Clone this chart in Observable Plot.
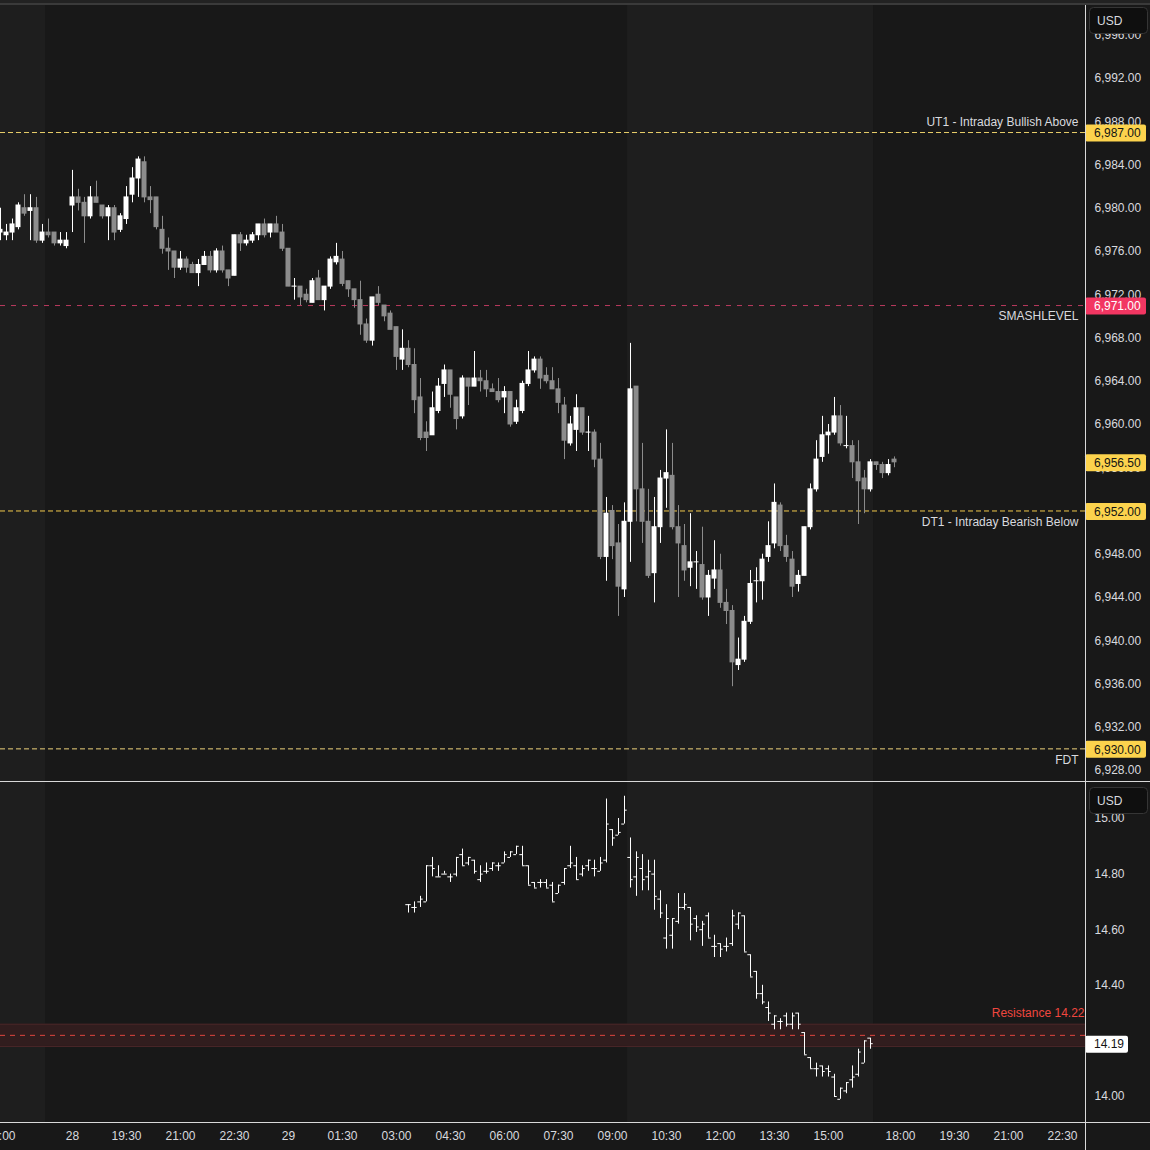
<!DOCTYPE html>
<html><head><meta charset="utf-8">
<script src="https://cdn.jsdelivr.net/npm/d3@7"></script>
<script src="https://cdn.jsdelivr.net/npm/@observablehq/plot@0.6"></script>
<style>
html,body{margin:0;padding:0;background:#181818;}
#chart{position:relative;width:1150px;height:1150px;overflow:hidden;background:#181818;font-family:"Liberation Sans",Arial,sans-serif;}
#chart svg{position:absolute;left:0;display:block;}
</style></head><body><div id="chart"></div>
<script>
// ---------- ES 10-minute candles (bar index 0 = 15:00 on the 27th) ----------
const esOpen = [
6977.75,6977.5,6977.75,6978.25,6980,6979.75,6980,6977,6977.75,6977.75,
6976.75,6976.5,6980.25,6981,6980.5,6979.25,6981,6980.25,6979.25,6980,
6978,6979,6981.25,6982.75,6984.25,6981,6981,6978,6976.25,6976,
6974.5,6975.25,6974.75,6974,6974.75,6975.5,6974.25,6976,6974.25,6973.75,
6977.5,6976.75,6977,6977.5,6978.5,6977.75,6978.5,6977.75,6976.25,6972.75,
6972.75,6972,6971.25,6973.5,6971.5,6972.75,6975,6975.25,6973.25,6972.5,
6971.5,6969.25,6967.75,6972,6971,6970.25,6969,6966,6967,6965.5,
6962.5,6959.25,6959,6961.25,6963.75,6965,6962.5,6960.75,6964.25,6963.5,
6964.25,6964,6963.25,6963,6962.5,6963,6960.25,6961.25,6963.75,6965,
6966,6964.5,6964,6963.25,6961.75,6958.25,6959.5,6961.5,6959.25,6959.25,
6956.75,6947.75,6952,6949,6944.75,6951,6963.5,6954,6951,6946.25,
6950.5,6955,6955.25,6950.5,6948.75,6946.75,6947.25,6947,6944,6945.75,
6946.5,6943.5,6942.75,6937.75,6938.25,6941.75,6945.5,6945.5,6947.75,6949,
6952.5,6948.75,6947.5,6945.25,6946,6950.5,6954,6957,6959,6959.25,
6960.75,6958,6958,6956.5,6955,6954,6956.5,6956.25,6955.5,6956.75];
const esHigh = [
6980,6978.5,6979,6980.5,6981.25,6981.25,6981,6978.5,6979,6977.75,
6977.75,6977.75,6983.5,6981.75,6981,6982,6982.5,6980.25,6980.25,6980.25,
6979.5,6982,6983.75,6984.75,6984.75,6982,6981,6979.25,6977.25,6976,
6976,6975.5,6975,6975.25,6976,6976,6976.25,6976.5,6974.25,6977.5,
6977.75,6977.5,6977.75,6978.5,6979,6978.5,6979.25,6978.5,6976.25,6973.5,
6972.75,6972.5,6973.5,6974.25,6972.75,6975.5,6976.75,6976,6973.25,6972.5,
6973.25,6969.75,6971.75,6972.75,6971,6970.5,6969,6968.75,6967.75,6967,
6964.25,6960.25,6963,6964.25,6965.5,6965,6962.5,6964.5,6964.25,6966.75,
6965,6965,6963.75,6964.25,6963.5,6963,6962.25,6964,6966.75,6966.25,
6966.25,6965.25,6965.25,6964.25,6962.5,6960.75,6962.75,6961.5,6960.75,6959.5,
6958.25,6953.25,6952.5,6950.75,6952.75,6967.5,6963.5,6958.25,6954,6953.25,
6955.75,6959.5,6958.25,6952.5,6950.75,6951.75,6948.25,6950.5,6946.5,6949.25,
6948,6944.75,6943.25,6940.25,6942.25,6946.5,6946.75,6948,6951,6954.5,
6952.75,6949.75,6948.25,6946.5,6950.5,6954.5,6958.5,6960.75,6960,6962.5,
6961.75,6960.75,6958.5,6958.5,6955.75,6956.75,6956.5,6956.5,6956.75,6957];
const esLow = [
6977,6977,6977,6978,6979.25,6977,6976.75,6976.75,6977.25,6976.5,
6976.5,6976.25,6977.75,6979.75,6976.75,6979,6980.5,6979,6977,6977,
6977.75,6978.5,6980.5,6981,6980.5,6979.5,6978,6975.75,6974.25,6973.5,
6974.25,6974,6974,6972.75,6974.75,6974,6974,6974,6972.75,6973.75,
6976,6976.5,6976.75,6977,6977.25,6977.25,6977.75,6976,6972.75,6971.5,
6971,6971.25,6971.25,6971.5,6970.5,6972.5,6974.75,6972.75,6971.75,6970.75,
6968.25,6967.5,6967.25,6971,6969.5,6968.75,6965,6965,6965.25,6961,
6958.5,6957.5,6959,6961,6962.5,6961.5,6959.5,6960.5,6961.75,6963.5,
6963,6962.5,6963,6962,6961,6959.75,6960,6961,6963.5,6964.75,
6963.25,6963.75,6963.25,6961,6956.75,6958,6957.5,6959,6957.5,6956,
6947.5,6945.5,6947.5,6942.25,6944,6947.25,6951,6949,6945.75,6943.5,
6949,6952.25,6950.25,6944,6945.5,6945,6944.75,6943.75,6942.25,6944.75,
6943,6941.5,6935.75,6937.25,6938,6941.5,6943.5,6943.75,6947.25,6948.5,
6948.25,6947.25,6944,6944.5,6946,6950.25,6953.75,6956.5,6957.25,6959,
6958,6957.75,6955,6950.75,6951.75,6953.75,6955.75,6955,6955.25,6956];
const esClose = [
6978,6977.75,6978.5,6980.25,6979.5,6980,6977,6977.75,6977.5,6976.75,
6977,6977,6981,6980.5,6979.25,6981,6980.5,6979.25,6980,6977.75,
6979.25,6981,6982.75,6984.5,6981,6980.75,6978.25,6976.25,6976,6974.5,
6975.25,6974.5,6974,6974.75,6975.5,6974.25,6976,6974.25,6973.5,6977.5,
6976.75,6977,6977.5,6978.5,6977.5,6978.5,6977.75,6976.25,6972.75,6972.75,
6971.75,6971.5,6973.25,6971.5,6972.75,6975.25,6975.5,6973,6972.5,6971.5,
6969.25,6967.75,6971.75,6971.25,6970,6968.75,6966.25,6967,6965.5,6962.25,
6958.75,6958.75,6961.5,6963.5,6965,6962.75,6960.5,6964.25,6963.5,6964.25,
6964,6963.25,6963,6962.25,6963,6960,6961.5,6963.75,6965,6966,
6964.25,6964,6963.25,6962,6958.5,6960,6961.5,6959.25,6959.25,6956.75,
6947.75,6951.75,6948.75,6945,6951,6963.25,6954,6951,6946,6950.5,
6955,6955.5,6950.5,6949,6946.5,6947.25,6947.25,6944,6946,6946.5,
6943.5,6942.75,6938,6938.25,6941.75,6945.25,6945.5,6947.5,6948.75,6952.75,
6948.75,6947.75,6945,6946,6950.5,6954,6956.75,6959,6959.25,6960.75,
6958.25,6958,6956.5,6954.75,6954,6956.5,6956.25,6955.5,6956.25,6956.5];

// ---------- VIX OHLC bars (first bar index) ----------
const vixFirstBar = 68;
const vixOpen = [
14.69,14.68,14.70,14.70,14.83,14.79,14.80,14.79,14.80,14.87,
14.84,14.85,14.78,14.81,14.82,14.83,14.84,14.86,14.87,14.87,
14.83,14.77,14.77,14.77,14.76,14.73,14.77,14.83,14.83,14.80,
14.83,14.82,14.81,14.85,14.96,14.94,14.98,14.86,14.79,14.82,
14.79,14.80,14.71,14.57,14.58,14.63,14.68,14.68,14.64,14.60,
14.65,14.54,14.55,14.54,14.55,14.62,14.65,14.51,14.45,14.37,
14.32,14.26,14.27,14.29,14.26,14.30,14.23,14.14,14.10,14.11,
14.10,14.07,13.99,14.02,14.06,14.08,14.12,14.21];
const vixHigh = [
14.69,14.70,14.72,14.83,14.86,14.83,14.81,14.80,14.86,14.89,
14.86,14.85,14.83,14.84,14.84,14.84,14.88,14.88,14.90,14.90,
14.83,14.77,14.78,14.78,14.77,14.76,14.82,14.90,14.86,14.83,
14.85,14.85,14.86,15.07,14.96,15.00,15.08,14.93,14.88,14.87,
14.85,14.85,14.74,14.69,14.64,14.73,14.73,14.68,14.65,14.63,
14.66,14.58,14.55,14.57,14.67,14.66,14.65,14.51,14.45,14.40,
14.34,14.29,14.28,14.30,14.30,14.30,14.23,14.14,14.12,14.11,
14.11,14.08,14.03,14.05,14.11,14.17,14.20,14.21];
const vixLow = [
14.66,14.66,14.68,14.70,14.79,14.79,14.80,14.77,14.79,14.83,
14.83,14.80,14.77,14.80,14.81,14.81,14.84,14.86,14.87,14.83,
14.76,14.75,14.75,14.75,14.70,14.73,14.76,14.82,14.78,14.79,
14.81,14.79,14.81,14.84,14.90,14.94,14.98,14.75,14.72,14.74,
14.74,14.67,14.64,14.53,14.53,14.62,14.67,14.56,14.59,14.54,
14.57,14.50,14.50,14.52,14.54,14.60,14.52,14.43,14.35,14.33,
14.27,14.24,14.24,14.25,14.24,14.24,14.15,14.10,14.07,14.07,
14.07,14.00,13.99,14.01,14.03,14.07,14.12,14.17];
const vixClose = [
14.69,14.68,14.71,14.83,14.82,14.79,14.80,14.79,14.86,14.83,
14.86,14.81,14.80,14.81,14.84,14.83,14.87,14.88,14.90,14.83,
14.76,14.75,14.77,14.75,14.70,14.76,14.82,14.84,14.78,14.82,
14.85,14.82,14.84,14.98,14.93,14.95,15.03,14.78,14.86,14.78,
14.81,14.72,14.66,14.64,14.64,14.68,14.69,14.62,14.61,14.62,
14.57,14.54,14.53,14.54,14.65,14.66,14.52,14.43,14.37,14.34,
14.30,14.29,14.27,14.26,14.29,14.26,14.15,14.10,14.10,14.09,
14.09,14.00,14.03,14.05,14.07,14.16,14.20,14.19];

// ---------- levels, ticks, sessions ----------
const levelNames  = ["UT1 - Intraday Bullish Above", "SMASHLEVEL", "DT1 - Intraday Bearish Below", "FDT"];
const levelPrices = [6987, 6971, 6952, 6930];
const levelColors = ["#e9cf6a", "#d6406a", "#f2c94c", "#eed27a"];
const levelLabelAbove = [true, false, false, false];
const esLastPrice = 6956.5;
const vixLastPrice = 14.19;
const resistanceLevel = 14.22, resistanceLow = 14.18, resistanceHigh = 14.26;
const esTicks = [6928,6932,6936,6940,6944,6948,6952,6956,6960,6964,6968,6972,6976,6980,6984,6988,6992,6996];
const vixTicks = [14.00,14.20,14.40,14.60,14.80,15.00];
const timeTickBars   = [0,12,21,30,39,48,57,66,75,84,93,102,111,120,129,138,150,159,168,177];
const timeTickLabels = ["15:00","28","19:30","21:00","22:30","29","01:30","03:00","04:30","06:00","07:30","09:00","10:30","12:00","13:30","15:00","18:00","19:30","21:00","22:30"];
const sessionStart = [-8, 104.5];   // regular-session shading, in bar units
const sessionEnd   = [7.5, 145.5];
const visibleBars = 180.83;
const esDomain  = [6926.89, 6999.21];
const vixDomain = [13.9065, 15.1295];

// ---------- build tables ----------
const es = esOpen.map((o, i) => ({i, o, h: esHigh[i], l: esLow[i], c: esClose[i]}));
const vix = vixOpen.map((o, k) => ({i: k + vixFirstBar, o, h: vixHigh[k], l: vixLow[k], c: vixClose[k]}));
const levels = levelNames.map((name, k) => ({name, price: levelPrices[k], color: levelColors[k], above: levelLabelAbove[k]}));
const sessions = sessionStart.map((s, k) => ({s, e: sessionEnd[k]}));

const UP = "#ffffff", DOWN = "#8c8c8c", TXT = "#d8dadf", YEL = "#fcd34d";
const FONT = "'Liberation Sans', Arial, sans-serif";
const candleColor = d => d.c >= d.o ? UP : DOWN;
const half = 5 / 12;

const chartDiv = document.getElementById("chart");

const topPlot = Plot.plot({
  width: 1150, height: 782,
  marginLeft: 0, marginRight: 65, marginTop: 0, marginBottom: 0,
  style: {background: "transparent", fontFamily: FONT, fontSize: "12px", color: TXT, overflow: "visible"},
  x: {domain: [0, visibleBars], axis: null},
  y: {domain: esDomain, axis: null},
  color: {type: "identity"},
  marks: [
    Plot.rect(sessions, {x1: "s", x2: "e", fill: "#1e1e1e"}),
    Plot.ruleY(levels.filter(d => d.name !== "SMASHLEVEL"), {y: "price", stroke: "color", strokeDasharray: "5,3", strokeWidth: 1}),
    Plot.ruleY(levels.filter(d => d.name === "SMASHLEVEL"), {y: "price", stroke: "color", strokeDasharray: "5,6", strokeWidth: 1, strokeOpacity: 0.85}),
    Plot.text(levels.filter(d => d.above), {y: "price", text: "name", frameAnchor: "right", textAnchor: "end", dx: -7, dy: -10, fill: TXT, fontSize: 12}),
    Plot.text(levels.filter(d => !d.above), {y: "price", text: "name", frameAnchor: "right", textAnchor: "end", dx: -7, dy: 11, fill: TXT, fontSize: 12}),
    Plot.ruleX(es, {x: "i", y1: "l", y2: "h", stroke: candleColor, strokeWidth: 1}),
    Plot.rect(es, {x1: d => d.i - half, x2: d => d.i + half, y1: "o", y2: "c", fill: candleColor, insetTop: -0.5, insetBottom: -0.5}),
    Plot.axisY({anchor: "right", ticks: esTicks, tickFormat: d3.format(",.2f"), tickSize: 0, tickPadding: 9, fill: TXT, fontSize: 12, label: null})
  ]
});
topPlot.style.top = "0px";
chartDiv.appendChild(topPlot);

const bottomPlot = Plot.plot({
  width: 1150, height: 368,
  marginLeft: 0, marginRight: 65, marginTop: 0, marginBottom: 28,
  style: {background: "transparent", fontFamily: FONT, fontSize: "12px", color: TXT, overflow: "visible"},
  x: {domain: [0, visibleBars], axis: null},
  y: {domain: vixDomain, axis: null},
  marks: [
    Plot.rect(sessions, {x1: "s", x2: "e", fill: "#1e1e1e"}),
    Plot.rect([{lo: resistanceLow, hi: resistanceHigh}], {y1: "lo", y2: "hi", fill: "#311d1e"}),
    Plot.ruleY([resistanceLow, resistanceHigh], {stroke: "#4a2628", strokeWidth: 1}),
    Plot.ruleY([resistanceLevel], {stroke: "#e0453f", strokeDasharray: "5,5", strokeWidth: 1}),
    Plot.text([`Resistance ${resistanceLevel.toFixed(2)}`], {y: resistanceHigh, text: d => d, frameAnchor: "right", textAnchor: "end", dx: -1, dy: -11, fill: "#f0473f", fontSize: 12}),
    Plot.ruleX(vix, {x: "i", y1: "l", y2: "h", stroke: "#ffffff"}),
    Plot.ruleY(vix, {y: "o", x1: d => d.i - 0.45, x2: "i", stroke: "#ffffff"}),
    Plot.ruleY(vix, {y: "c", x1: "i", x2: d => d.i + 0.45, stroke: "#ffffff"}),
    Plot.axisY({anchor: "right", ticks: vixTicks, tickFormat: d3.format(".2f"), tickSize: 0, tickPadding: 9, fill: TXT, fontSize: 12, label: null}),
    Plot.axisX({anchor: "bottom", ticks: timeTickBars, tickFormat: d => timeTickLabels[timeTickBars.indexOf(d)], tickSize: 0, tickPadding: 9, fill: TXT, fontSize: 12, label: null})
  ]
});
bottomPlot.style.top = "782px";
chartDiv.appendChild(bottomPlot);

// ---------- price badges, drawn with the plots' own y scales ----------
function badge(svg, scale, value, text, fill, color, w) {
  const y = scale.apply(value);
  const g = d3.select(svg).append("g").attr("text-anchor", "start");
  g.append("rect").attr("x", 1085).attr("y", y - 7.5).attr("width", w).attr("height", 17).attr("rx", 2).attr("fill", fill);
  g.append("text").attr("x", 1094).attr("y", y + 1).attr("dy", "0.35em").attr("fill", color).attr("text-anchor", "start")
    .attr("font-size", 12).attr("font-family", FONT).text(text);
}
const yTop = topPlot.scale("y"), yBot = bottomPlot.scale("y");
const fmtES = d3.format(",.2f");
badge(topPlot, yTop, esLastPrice, fmtES(esLastPrice), YEL, "#131313", 61);
levels.forEach(d => badge(topPlot, yTop, d.price, fmtES(d.price), d.name === "SMASHLEVEL" ? "#f23662" : YEL, d.name === "SMASHLEVEL" ? "#ffffff" : "#131313", 61));
badge(bottomPlot, yBot, vixLastPrice, vixLastPrice.toFixed(2), "#ffffff", "#131313", 43);

// ---------- frame: separators, currency boxes ----------
const ov = d3.select(chartDiv).append("svg").attr("width", 1150).attr("height", 1150).style("top", "0px").style("pointer-events", "none");
ov.append("rect").attr("x", 0).attr("y", 0).attr("width", 1150).attr("height", 3).attr("fill", "#222222");
ov.append("rect").attr("x", 0).attr("y", 3).attr("width", 1150).attr("height", 2).attr("fill", "#3a3a3a");
ov.append("line").attr("x1", 0).attr("x2", 1150).attr("y1", 781.5).attr("y2", 781.5).attr("stroke", "#d9d9d9");
ov.append("line").attr("x1", 0).attr("x2", 1150).attr("y1", 1122.5).attr("y2", 1122.5).attr("stroke", "#d9d9d9");
ov.append("line").attr("x1", 1085.5).attr("x2", 1085.5).attr("y1", 5).attr("y2", 1150).attr("stroke", "#d9d9d9");
[[7, "USD"], [787, "USD"]].forEach(([y, t]) => {
  ov.append("rect").attr("x", 1089.5).attr("y", y + 0.5).attr("width", 58).attr("height", 26).attr("rx", 4)
    .attr("fill", "#0f0f0f").attr("stroke", "#353535");
  ov.append("text").attr("x", 1097).attr("y", y + 14).attr("dy", "0.35em").attr("fill", TXT).attr("text-anchor", "start")
    .attr("font-size", 12).attr("font-family", FONT).text(t);
});
</script></body></html>
